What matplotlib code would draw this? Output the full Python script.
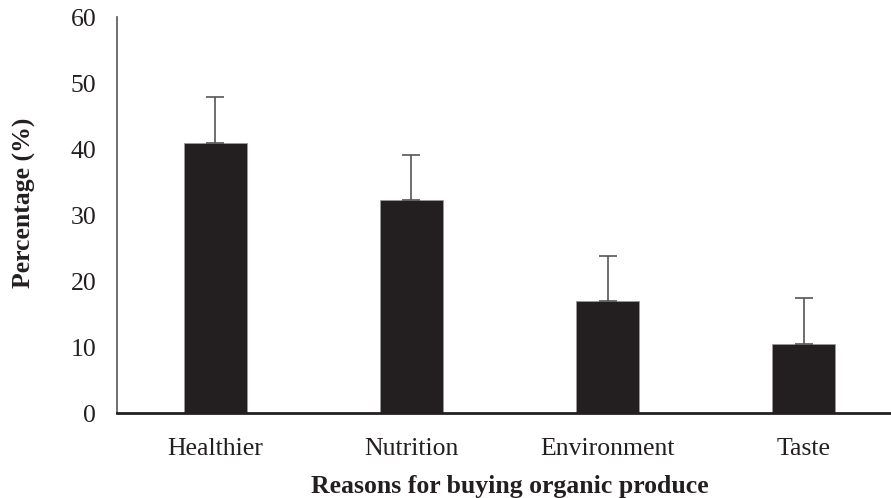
import matplotlib
matplotlib.use("Agg")
import matplotlib.pyplot as plt

categories = ["Healthier", "Nutrition", "Environment", "Taste"]
percentages = [40.9, 32.2, 17.0, 10.5]
errors = [7.0, 6.9, 6.8, 6.9]
y_ticks = [0, 10, 20, 30, 40, 50, 60]

plt.rcParams["font.family"] = ["Liberation Serif", "DejaVu Serif"]

fig = plt.figure(figsize=(8.91, 4.98), dpi=100)
# the category axis runs slightly past the right edge of the canvas
ax = fig.add_axes([117 / 891, 1 - 413 / 498, (902 - 117) / 891, (413 - 17) / 498])

x = list(range(len(categories)))
ax.bar(x, percentages, width=0.32, color="#231f20", edgecolor="#9a9a9a",
       linewidth=0.6, zorder=2)
ax.errorbar(x, percentages, yerr=[[0] * len(errors), errors], fmt="none",
            ecolor="#555555", elinewidth=1.2, capsize=6.5, capthick=1.2, zorder=3)

ax.set_xlim(-0.5, len(categories) - 0.5)
ax.set_ylim(0, 60)
ax.set_yticks(y_ticks)
ax.set_xticks(x)
ax.set_xticklabels(categories)
ax.tick_params(axis="both", length=0, labelsize=18.5, colors="#231f20")
ax.tick_params(axis="y", pad=15)
ax.tick_params(axis="x", pad=18)

for side in ("top", "right"):
    ax.spines[side].set_visible(False)
ax.spines["left"].set_color("#555555")
ax.spines["left"].set_linewidth(1.2)
ax.spines["bottom"].set_color("#231f20")
ax.spines["bottom"].set_linewidth(2)

ax.set_ylabel("Percentage (%)", fontsize=18.5, fontweight="bold", color="#231f20")
ax.yaxis.set_label_coords(-0.103, 0.53)
ax.set_xlabel("Reasons for buying organic produce", fontsize=18.5,
              fontweight="bold", color="#231f20", labelpad=11)

fig.savefig("out.png", dpi=100, facecolor="white")
